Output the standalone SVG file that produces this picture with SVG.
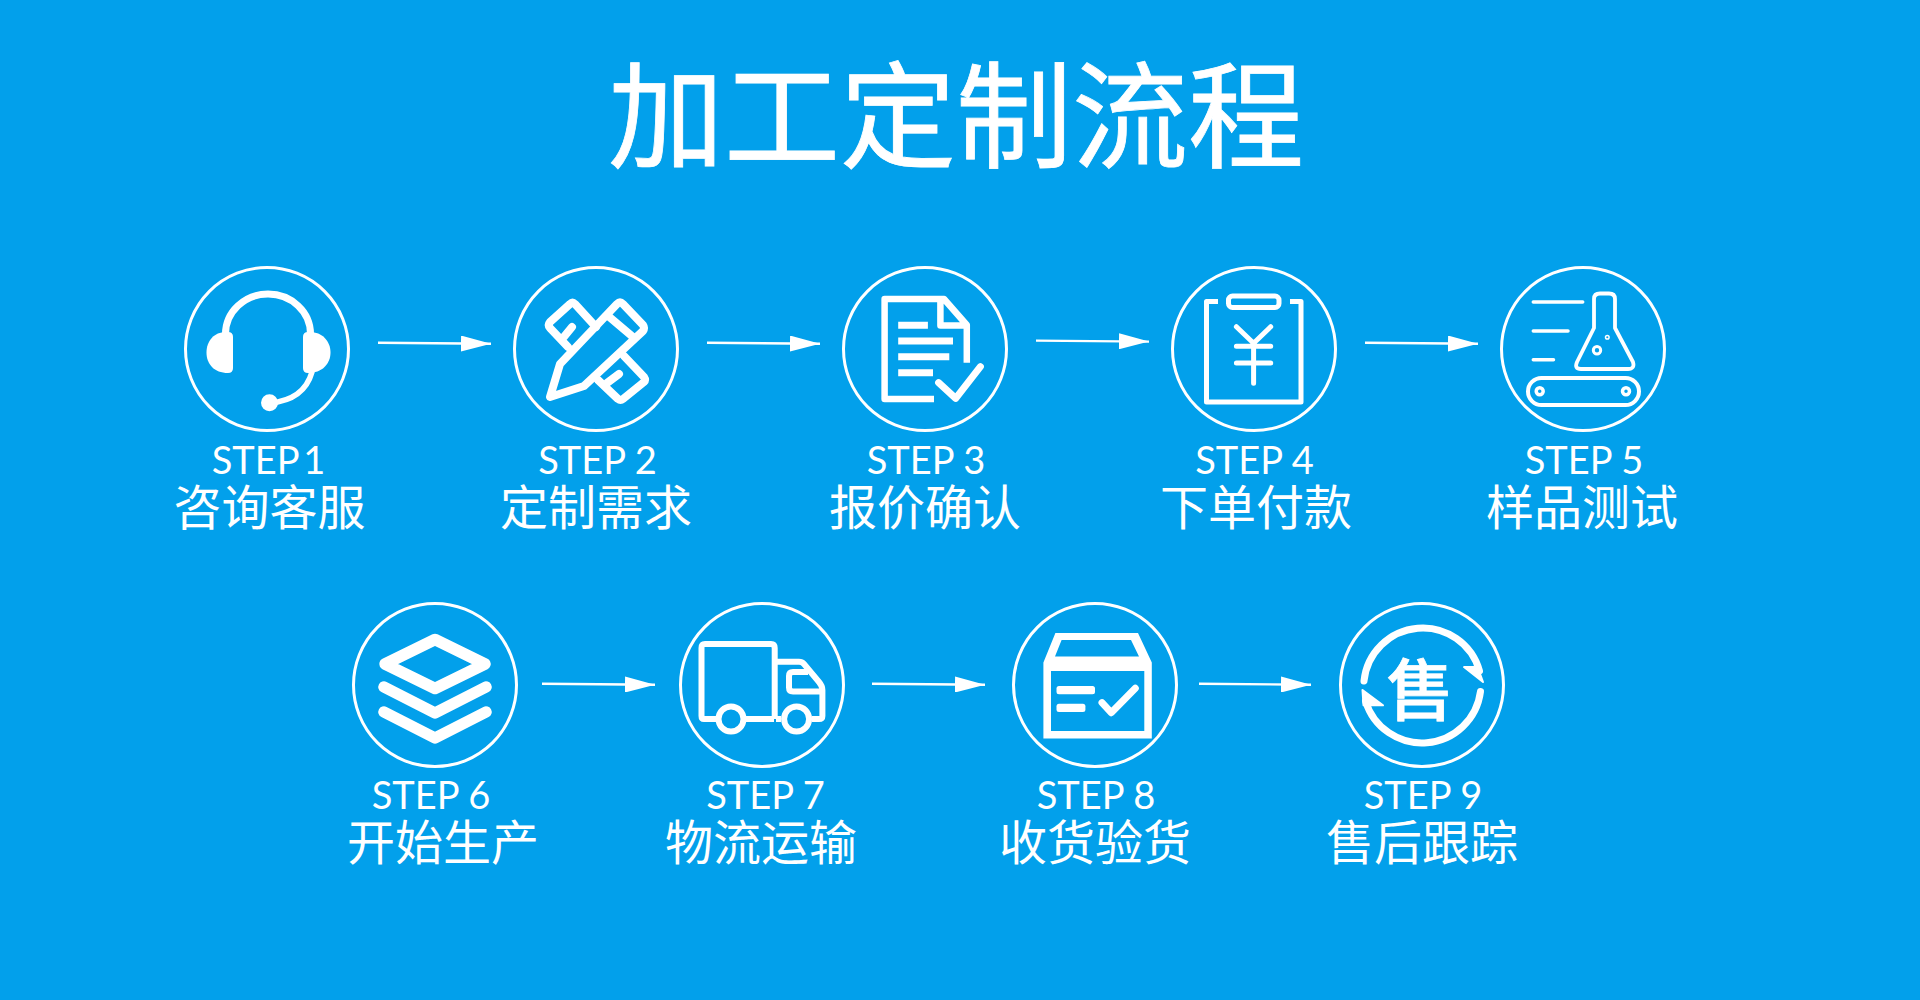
<svg xmlns="http://www.w3.org/2000/svg" width="1920" height="1000" viewBox="0 0 1920 1000">
<defs>
<marker id="ah" markerUnits="userSpaceOnUse" markerWidth="30" markerHeight="16" refX="30" refY="8" orient="auto"><path d="M0 0L30 8L0 16Z" fill="#fff"/></marker>
</defs>
<style>
text{fill:#fff;text-anchor:middle}
.t{font:400 116px "Noto Sans CJK SC",sans-serif;stroke:#fff;stroke-width:.8}
.s{font:400 38px "Lato","Noto Sans",sans-serif}
.c{font:400 48px "Noto Sans CJK SC",sans-serif}
.ring{fill:none;stroke:#fff;stroke-width:3}
.l{fill:none;stroke:#fff;stroke-linecap:round;stroke-linejoin:round}
.b{fill:none;stroke:#fff;stroke-linejoin:round}
.f{fill:#fff}
#connectors line{stroke:#fff;stroke-width:2.400;marker-end:url(#ah)}
</style>
<rect width="1920" height="1000" fill="#02A0EB"/>
<text class="t" x="956" y="159">加工定制流程</text>
<g id="connectors">
<line x1="378" y1="342.800" x2="491" y2="343.800"/>
<line x1="707" y1="342.800" x2="820" y2="343.800"/>
<line x1="1036" y1="340.600" x2="1149" y2="341.600"/>
<line x1="1365" y1="342.800" x2="1478" y2="343.800"/>
<line x1="542" y1="683.700" x2="655" y2="684.700"/>
<line x1="872" y1="683.700" x2="985" y2="684.700"/>
<line x1="1199" y1="683.700" x2="1311" y2="684.700"/>
</g>
<g id="node1"><circle class="ring" cx="267" cy="349" r="81.500"/>
<path class="l" stroke-width="7" d="M225.500 334A42.500 40 0 0 1 310.500 334"/>
<path class="f" d="M226 332H228Q233 332 233 337V368Q233 373 228 373C214 373 206.500 364 206.500 352.500C206.500 341 214 332 226 332Z"/>
<path class="f" d="M310 332H308Q303 332 303 337V368Q303 373 308 373C322 373 330.500 364 330.500 352.500C330.500 341 322 332 310 332Z"/>
<path class="l" stroke-width="5.500" d="M312 372Q304 400 270 403"/><circle class="f" cx="269.500" cy="402.700" r="8.500"/>
<text class="s" x="268.500" y="474" style="word-spacing:-5px">STEP 1</text><text class="c" x="269.500" y="525">咨询客服</text></g>
<g id="node2"><circle class="ring" cx="596" cy="349" r="81.500"/>
<path class="l" stroke-width="8" d="M596 327L575 304Q572.500 301.500 570 304L550 322Q547.500 325 550 328L568 347M563 338L572 327M624 356L644 377Q646 380 644 382L623 399Q620.500 401 618 399L598 380M607 383L619 374"/>
<path class="l" stroke-width="8" d="M550 397L560 364L617 304Q620 301 623 304L643 325Q645 328 643 331L584 386ZM607 315L633 337"/>
<text class="s" x="597.500" y="474">STEP 2</text><text class="c" x="596" y="525">定制需求</text></g>
<g id="node3"><circle class="ring" cx="925" cy="349" r="81.500"/>
<path class="b" stroke-width="6.500" d="M934 399H884.600V299H944L966.800 325V362.700M940.400 298V325.600H966"/>
<path class="f" d="M898.200 321.800H927.900V328.800H898.200ZM898.200 337.500H953V344.500H898.200ZM898.200 353.200H949.300V360.200H898.200ZM898.200 369.200H933V376.200H898.200Z"/>
<path class="l" stroke-width="7" d="M938.600 382.700L955.700 398.300L980.400 366.700"/>
<text class="s" x="926" y="474">STEP 3</text><text class="c" x="925" y="525">报价确认</text></g>
<g id="node4"><circle class="ring" cx="1254" cy="349" r="81.500"/>
<path class="b" stroke-width="5" d="M1218 301.500H1206.500V402H1301V301.500H1290"/>
<rect class="b" stroke-width="5" x="1228.500" y="296" width="50.500" height="11.500" rx="4"/>
<path class="l" stroke-width="5" d="M1236.400 326.700L1253.600 343.300L1270.700 326.700M1253.600 343.300V383.300M1236.400 346.300H1270.700M1236.400 363H1270.700"/>
<text class="s" x="1254.500" y="474">STEP 4</text><text class="c" x="1256" y="525">下单付款</text></g>
<g id="node5"><circle class="ring" cx="1583" cy="349" r="81.500"/>
<path class="l" stroke-width="3.500" d="M1533.300 302H1582.700M1533.300 331H1568M1533.300 359.700H1553.500"/>
<path class="b" stroke-width="3.800" d="M1594 328V299Q1594 293.500 1600 293.500H1609Q1615 293.500 1615 299V328L1633 362Q1635 369 1628 369H1581Q1574 369 1577 362Z"/>
<circle class="b" stroke-width="3" cx="1597" cy="350.300" r="3.700"/><circle class="b" stroke-width="1.500" cx="1607.300" cy="337.300" r="1.800"/>
<rect class="b" stroke-width="4" x="1528" y="378" width="111" height="27" rx="13.500"/>
<circle class="b" stroke-width="3.500" cx="1539.700" cy="391.300" r="3.500"/><circle class="b" stroke-width="3.500" cx="1626" cy="391.300" r="3.500"/>
<text class="s" x="1584" y="474">STEP 5</text><text class="c" x="1582" y="525">样品测试</text></g>
<g id="node6"><circle class="ring" cx="435" cy="685" r="81.500"/>
<path class="l" stroke-width="11.500" d="M435 639.500L385 664L435 688.500L485 664Z"/>
<path class="l" stroke-width="11.500" d="M384 687L435 713L486 687M384 712L435 738L486 712"/>
<text class="s" x="431" y="809">STEP 6</text><text class="c" x="443" y="860">开始生产</text></g>
<g id="node7"><circle class="ring" cx="762" cy="685" r="81.500"/>
<path class="b" stroke-width="6" d="M717 719H704Q701.500 719 701.500 716V648Q701.500 644 705 644H771Q774.700 644 774.700 648V719M746 719H774M774.700 661.700H799Q802 661.700 804 664L819 682Q822.400 686 822.400 690V716Q822.400 719 819 719H812M781 719H776"/>
<path class="b" stroke-width="6" d="M820 691.500H793Q789 691.500 789 687.500V676Q789 672 793 672H808"/>
<circle class="b" stroke-width="6" cx="731" cy="719" r="12.500"/><circle class="b" stroke-width="6" cx="796.600" cy="719" r="12.500"/>
<text class="s" x="765.500" y="809">STEP 7</text><text class="c" x="761" y="860">物流运输</text></g>
<g id="node8"><circle class="ring" cx="1095" cy="685" r="81.500"/>
<path class="f" fill-rule="evenodd" d="M1055.400 633H1138L1151.800 662.500V738.500H1043.400V662.500ZM1061.600 640L1055 656.500H1139L1131 640ZM1051 671V731H1144.300V671Z"/>
<rect class="f" x="1056.500" y="686" width="38.500" height="8.300" rx="2.500"/><rect class="f" x="1056.500" y="703.700" width="28.900" height="8.300" rx="2.500"/>
<path class="l" stroke-width="7" d="M1102 702.700L1111.200 712.700L1135.300 688.300"/>
<text class="s" x="1096" y="809">STEP 8</text><text class="c" x="1095" y="860">收货验货</text></g>
<g id="node9"><circle class="ring" cx="1422" cy="685" r="81.500"/>
<path class="l" stroke-width="7" d="M1364 681A59 59 0 0 1 1479.500 671M1480.500 691.500A59 59 0 0 1 1365.500 701"/>
<path class="f" stroke="#fff" stroke-width="2" stroke-linejoin="round" d="M1464 667H1477.500L1483 682ZM1383 705.300H1363.500L1362.500 690Z"/>
<text x="1420" y="715" style="font:500 67px 'Noto Sans CJK SC',sans-serif;stroke:#fff;stroke-width:.8">售</text>
<text class="s" x="1423" y="809">STEP 9</text><text class="c" x="1422" y="860">售后跟踪</text></g>
</svg>
